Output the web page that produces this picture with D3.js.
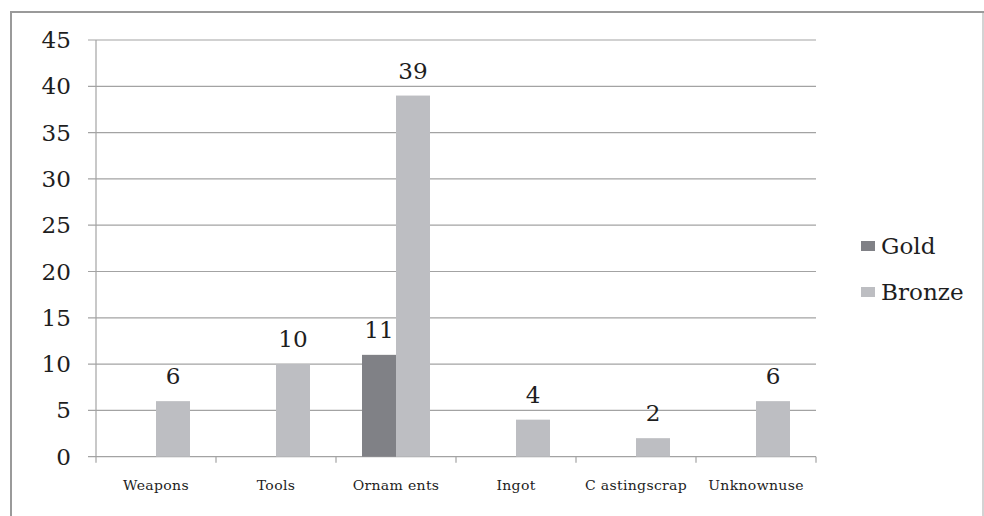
<!DOCTYPE html>
<html><head><meta charset="utf-8">
<script src="https://cdn.jsdelivr.net/npm/d3@7"></script>
<style>body{margin:0;background:#fff}svg{display:block}</style>
</head><body><svg id="c" width="984" height="516"></svg>
<script>
const categories = ["Weapons","Tools","Ornam ents","Ingot","C astingscrap","Unknownuse"];
const series = ["Gold","Bronze"];
const goldValues = [null, null, 11, null, null, null];
const bronzeValues = [6, 10, 39, 4, 2, 6];
const yTicks = [0,5,10,15,20,25,30,35,40,45];
const colors = ["#808186","#bdbec2"];

const svg = d3.select("#c");
const SX = 1.05;
const FONT = "'DejaVu Serif', serif";
svg.append("rect").attr("x",11).attr("y",12).attr("width",972).attr("height",520)
  .attr("fill","none").attr("stroke","#9a9a9a").attr("stroke-width",2);
svg.append("line").attr("x1",983).attr("x2",983).attr("y1",13).attr("y2",516).attr("stroke","#e6e6e6").attr("stroke-width",1.5);

const x0 = d3.scaleBand().domain(categories).range([96,816]).paddingInner(52/120).paddingOuter(26/120);
const x1 = d3.scaleBand().domain(series).range([0,x0.bandwidth()]);
const y = d3.scaleLinear().domain([0,45]).range([456.7,40]);

const g = svg.append("g");
g.selectAll("line.grid").data(yTicks).join("line")
  .attr("x1",88).attr("x2",816).attr("y1",d=>y(d)).attr("y2",d=>y(d))
  .attr("stroke","#a3a3a3").attr("stroke-width",1.2);
g.append("line").attr("x1",96).attr("x2",96).attr("y1",y(45)).attr("y2",y(0)).attr("stroke","#a3a3a3").attr("stroke-width",1.2);
const bounds = categories.map(c=>x0(c)-x0.step()*x0.paddingOuter()).concat([816]);
g.selectAll("line.xt").data(bounds).join("line")
  .attr("x1",d=>d).attr("x2",d=>d).attr("y1",y(0)).attr("y2",y(0)+6)
  .attr("stroke","#a3a3a3").attr("stroke-width",1.2);

g.selectAll("text.yl").data(yTicks).join("text")
  .attr("font-family",FONT).attr("fill","#1e1e1e")
  .attr("transform",d=>`translate(71,${y(d)+8}) scale(${SX},1)`)
  .attr("text-anchor","end").attr("font-size",22).text(d=>d);

const seriesData = [goldValues, bronzeValues];
series.forEach((s,si)=>{
  const vals = seriesData[si];
  const bars = categories.map((c,i)=>({c,v:vals[i]})).filter(d=>d.v!=null);
  svg.selectAll("rect.b"+si).data(bars).join("rect")
    .attr("x",d=>x0(d.c)+x1(s)).attr("width",x1.bandwidth())
    .attr("y",d=>y(d.v)).attr("height",d=>y(0)-y(d.v)).attr("fill",colors[si]);
  svg.selectAll("text.v"+si).data(bars).join("text")
    .attr("font-family",FONT).attr("fill","#1e1e1e")
    .attr("transform",d=>`translate(${x0(d.c)+x1(s)+x1.bandwidth()/2},${y(d.v)-17}) scale(${SX},1)`)
    .attr("text-anchor","middle").attr("font-size",22).text(d=>d.v);
});

svg.selectAll("text.cl").data(categories).join("text")
  .attr("font-family",FONT).attr("fill","#1e1e1e")
  .attr("transform",d=>`translate(${x0(d)+x0.bandwidth()/2},490) scale(1.08,1)`)
  .attr("text-anchor","middle").attr("font-size",13).attr("letter-spacing",0.3).text(d=>d);

const leg = svg.append("g");
series.forEach((s,i)=>{
  const ly = 254 + i*46;
  leg.append("rect").attr("x",861).attr("y",ly-13).attr("width",14).attr("height",10).attr("fill",colors[i]);
  leg.append("text").attr("font-family",FONT).attr("fill","#1e1e1e")
    .attr("transform",`translate(881,${ly}) scale(1.05,1)`).attr("font-size",22).text(s);
});
</script></body></html>
